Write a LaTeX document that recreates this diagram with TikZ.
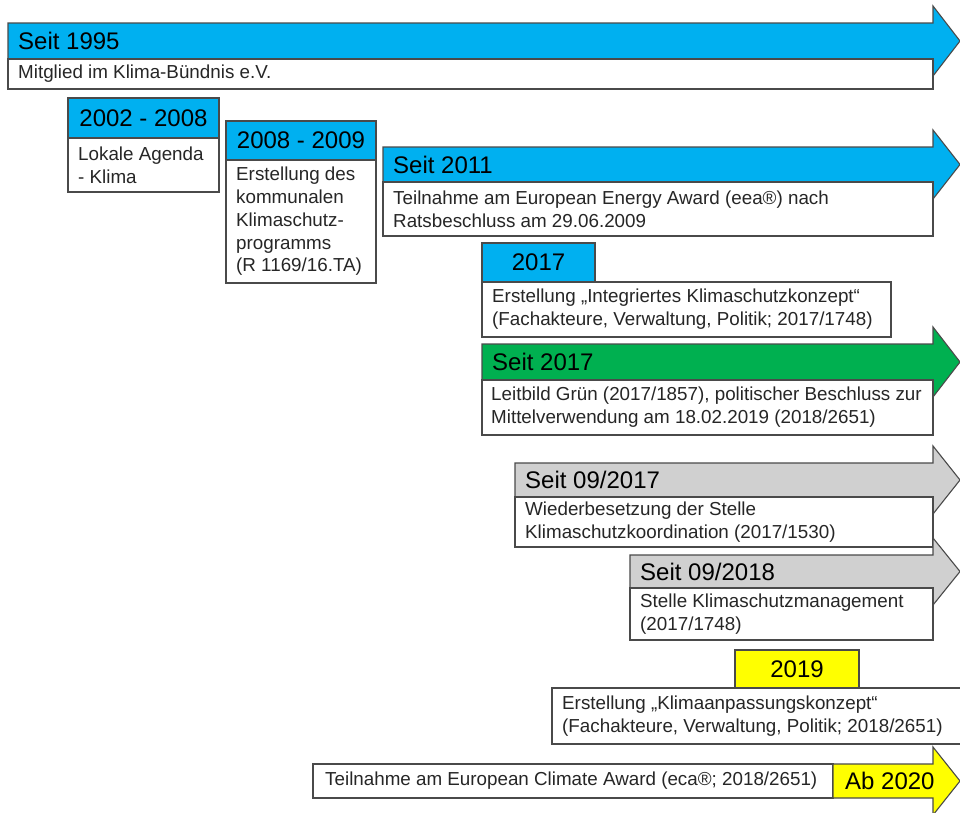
\documentclass[tikz,border=0pt]{standalone}
\usepackage{fontspec}
\setmainfont{Liberation Sans}
\definecolor{tlblue}{HTML}{00B0F0}
\definecolor{tlgreen}{HTML}{00B050}
\definecolor{tlgray}{HTML}{D0D0D0}
\definecolor{tlyellow}{HTML}{FFFF00}
\definecolor{edgeink}{HTML}{4A4A4A}
\definecolor{bodyink}{HTML}{262626}
\tikzset{
  box/.style={draw=edgeink, line width=1.1pt, fill=white, inner sep=0pt, outer sep=0pt, anchor=north west},
  hdr/.style={box, font=\fontsize{24}{28}\selectfont, text=black},
  bandtext/.style={anchor=west, inner sep=0pt, font=\fontsize{24}{28}\selectfont, text=black},
  bodytext/.style={anchor=west, inner sep=0pt, align=left, font=\fontsize{18.8}{22.8}\selectfont, text=bodyink},
  arrowshape/.style={draw=edgeink, line width=1.1pt, line join=miter},
}
\newcommand\tlarrow[4]{%
  \draw[arrowshape, fill=#4] (#1,#2) -- (933,#2) -- (933,#2-17) -- (960,{(#2+#3)/2}) -- (933,#3+17) -- (933,#3) -- (#1,#3) -- cycle;}
\begin{document}
\begin{tikzpicture}[x=1pt, y=-1pt]
\useasboundingbox (0,0) rectangle (960,812);
\clip (0,0) rectangle (960,812);
\fill[white] (0,0) rectangle (960,812);

% Seit 1995
\tlarrow{8}{23}{59}{tlblue}
\node[bandtext] (h95) at (18,41) {Seit 1995};
\node[box, minimum width=925, minimum height=30] (b95) at (8,59) {};
\node[bodytext] (t95) at ([xshift=10pt]b95.west) {Mitglied im Klima-Bündnis e.V.};

% 2002 - 2008
\node[hdr, fill=tlblue, minimum width=151, minimum height=40] (h02) at (68,98) {2002 - 2008};
\node[box, minimum width=151, minimum height=54] (b02) at (68,138) {};
\node[bodytext] (t02) at ([xshift=10pt]b02.west) {Lokale Agenda\\- Klima};

% 2008 - 2009
\node[hdr, fill=tlblue, minimum width=150, minimum height=39] (h08) at (226,121) {2008 - 2009};
\node[box, minimum width=150, minimum height=123] (b08) at (226,160) {};
\node[bodytext] (t08) at ([xshift=10pt]b08.west) {Erstellung des\\kommunalen\\Klimaschutz-\\programms\\(R 1169/16.TA)};

% Seit 2011
\tlarrow{383}{147}{182}{tlblue}
\node[bandtext] (h11) at (393,164.5) {Seit 2011};
\node[box, minimum width=550, minimum height=54] (b11) at (383,182) {};
\node[bodytext] (t11) at ([xshift=10pt]b11.west) {Teilnahme am European Energy Award (eea®) nach\\Ratsbeschluss am 29.06.2009};

% 2017
\node[hdr, fill=tlblue, minimum width=113, minimum height=39] (h17) at (482,243) {2017};
\node[box, minimum width=409, minimum height=55] (b17) at (482,282) {};
\node[bodytext] (t17) at ([xshift=10pt]b17.west) {Erstellung „Integriertes Klimaschutzkonzept“\\(Fachakteure, Verwaltung, Politik; 2017/1748)};

% Seit 2017
\tlarrow{482}{344}{380}{tlgreen}
\node[bandtext] (hs17) at (492,362) {Seit 2017};
\node[box, minimum width=451, minimum height=55] (bs17) at (482,380) {};
\node[bodytext] (ts17) at ([xshift=9pt]bs17.west) {Leitbild Grün (2017/1857), politischer Beschluss zur\\Mittelverwendung am 18.02.2019 (2018/2651)};

% Seit 09/2017
\tlarrow{515}{463}{497}{tlgray}
\node[bandtext] (h0917) at (525,480) {Seit 09/2017};
\node[box, minimum width=418, minimum height=50] (b0917) at (515,497) {};
\node[bodytext] (t0917) at ([xshift=10pt]b0917.west) {Wiederbesetzung der Stelle\\Klimaschutzkoordination (2017/1530)};

% Seit 09/2018
\tlarrow{630}{555}{588}{tlgray}
\node[bandtext] (h0918) at (640,571.5) {Seit 09/2018};
\node[box, minimum width=303, minimum height=52] (b0918) at (630,588) {};
\node[bodytext] (t0918) at ([xshift=10pt]b0918.west) {Stelle Klimaschutzmanagement\\(2017/1748)};

% 2019
\node[hdr, fill=tlyellow, minimum width=124, minimum height=38] (h19) at (735,650) {2019};
\node[box, minimum width=420, minimum height=56] (b19) at (552,688) {};
\node[bodytext] (t19) at ([xshift=10pt]b19.west) {Erstellung „Klimaanpassungskonzept“\\(Fachakteure, Verwaltung, Politik; 2018/2651)};

% Ab 2020
\node[box, minimum width=520, minimum height=34] (b20) at (313,764) {};
\node[bodytext] (t20) at ([xshift=12pt]b20.west) {Teilnahme am European Climate Award (eca®; 2018/2651)};
\tlarrow{833}{764}{798}{tlyellow}
\node[bandtext] (h20) at (845,781) {Ab 2020};
\end{tikzpicture}
\end{document}
